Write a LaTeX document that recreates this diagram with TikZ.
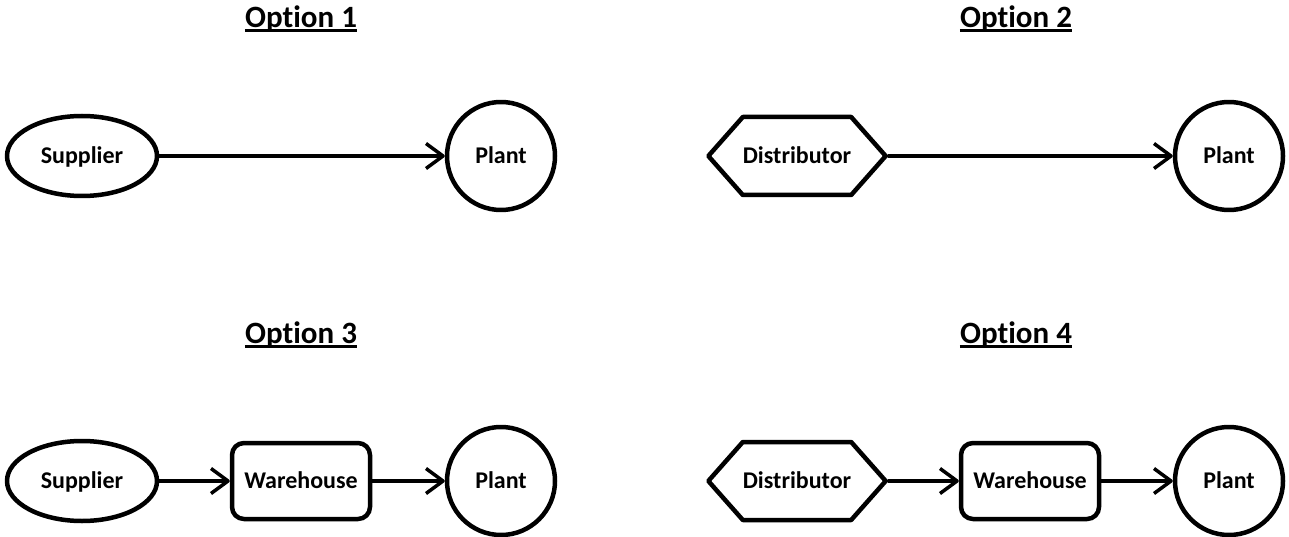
\documentclass[tikz,border=0pt]{standalone}
\usepackage{fontspec}
\setmainfont{Carlito}[Ligatures=NoCommon]
\usetikzlibrary{arrows.meta,positioning,shapes.geometric,shapes.symbols}

\begin{document}
\begin{tikzpicture}[x=1pt,y=1pt,
	shapeline/.style={draw,line width=4.5pt,line join=round},
	box/.style={font=\fontsize{24}{28}\selectfont\bfseries,inner sep=0pt,text height=15.5pt,text depth=0pt},
	supp/.style={box,shapeline,ellipse,minimum width=150pt,minimum height=80pt},
	plant/.style={box,shapeline,circle,minimum size=108pt},
	dist/.style={box,shapeline,signal,signal to=east and west,signal pointer angle=97,minimum width=176pt,minimum height=78pt},
	ware/.style={box,shapeline,rectangle,rounded corners=12pt,minimum width=138pt,minimum height=76pt},
	title/.style={font=\fontsize{31}{37}\selectfont\bfseries,inner sep=0pt,anchor=base},
	flow/.style={line width=3.5pt,line cap=round,-{Straight Barb[length=17pt,width=25pt,line join=round]}}]
	\useasboundingbox (0,0) rectangle (1289,536);

	% option 1
	\node[title] (t1) at (301,508) {Option 1};
	\draw[line width=3pt] ([yshift=-3pt]t1.base west) -- ([yshift=-3pt]t1.base east);
	\node[supp] (sup1) at (82,380) {Supplier};
	\node[plant] (pl1) at (501,380) {Plant};
	\draw[flow] (sup1) -- (pl1);

	% option 2
	\node[title] (t2) at (1016,508) {Option 2};
	\draw[line width=3pt] ([yshift=-3pt]t2.base west) -- ([yshift=-3pt]t2.base east);
	\node[dist] (dis2) at (797,380) {Distributor};
	\node[plant] (pl2) at (1229,380) {Plant};
	\draw[flow] (dis2.east) -- (pl2);

	% option 3
	\node[title] (t3) at (301,193) {Option 3};
	\draw[line width=3pt] ([yshift=-3pt]t3.base west) -- ([yshift=-3pt]t3.base east);
	\node[supp] (sup3) at (82,55) {Supplier};
	\node[ware] (wh3) at (301,55) {Warehouse};
	\node[plant] (pl3) at (501,55) {Plant};
	\draw[flow] (sup3) -- (wh3);
	\draw[flow] (wh3) -- (pl3);

	% option 4
	\node[title] (t4) at (1016,193) {Option 4};
	\draw[line width=3pt] ([yshift=-3pt]t4.base west) -- ([yshift=-3pt]t4.base east);
	\node[dist] (dis4) at (797,55) {Distributor};
	\node[ware] (wh4) at (1030,55) {Warehouse};
	\node[plant] (pl4) at (1229,55) {Plant};
	\draw[flow] (dis4.east) -- (wh4);
	\draw[flow] (wh4) -- (pl4);
\end{tikzpicture}
\end{document}
